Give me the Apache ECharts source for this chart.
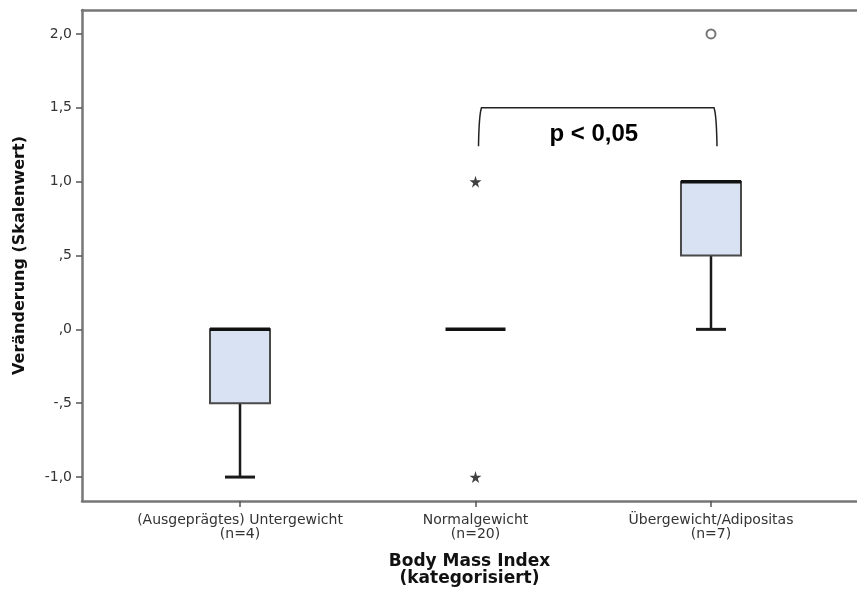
<!DOCTYPE html>
<html>
<head>
<meta charset="utf-8">
<script src="https://cdn.jsdelivr.net/npm/echarts@6/dist/echarts.min.js"></script>
<style>
  html, body { margin: 0; padding: 0; background: #fff; }
  #chart { width: 857px; height: 592px; }
</style>
</head>
<body>
<div id="chart"></div>
<script>
// BMI groups and the box statistics for "Veränderung (Skalenwert)"
const categories = ['(Ausgeprägtes) Untergewicht\n(n=4)', 'Normalgewicht\n(n=20)', 'Übergewicht/Adipositas\n(n=7)'];
const whiskerLow  = [-1.0, 0.0, 0.0];
const quartile1   = [-0.5, 0.0, 0.5];
const medians     = [ 0.0, 0.0, 1.0];
const quartile3   = [ 0.0, 0.0, 1.0];
const whiskerHigh = [ 0.0, 0.0, 1.0];

// outliers (circle) and extreme values (star): [group index, value]
const outliers = [[2, 2.0]];
const extremes = [[1, 1.0], [1, -1.0]];

// y-axis ticks with German decimal format
const yTicks      = [-1.0, -0.5, 0.0, 0.5, 1.0, 1.5, 2.0];
const yTickLabels = ['-1,0', '-,5', ',0', ',5', '1,0', '1,5', '2,0'];

// significance bracket between two groups
const bracketGroups = [1, 2];
const bracketTop = 1.5;
const bracketBottom = 1.24;
const bracketLabel = 'p < 0,05';

const boxData = categories.map((_, i) =>
  [i, whiskerLow[i], quartile1[i], medians[i], quartile3[i], whiskerHigh[i]]);

const BOX_HALF = 30;
const CAP_HALF = 15;

function renderBox(params, api) {
  const i = api.value(0);
  const cx = api.coord([i, 0])[0];
  const yLow = api.coord([i, api.value(1)])[1];
  const yQ1  = api.coord([i, api.value(2)])[1];
  const yMed = api.coord([i, api.value(3)])[1];
  const yQ3  = api.coord([i, api.value(4)])[1];
  const yHigh = api.coord([i, api.value(5)])[1];
  const children = [];
  const wStyle = { stroke: '#1a1a1a', lineWidth: 2.5 };
  if (api.value(1) < api.value(2)) {
    children.push({ type: 'line', shape: { x1: cx, y1: yQ1, x2: cx, y2: yLow }, style: wStyle });
    children.push({ type: 'line', shape: { x1: cx - CAP_HALF, y1: yLow, x2: cx + CAP_HALF, y2: yLow }, style: { stroke: '#1a1a1a', lineWidth: 3 } });
  }
  if (api.value(5) > api.value(4)) {
    children.push({ type: 'line', shape: { x1: cx, y1: yQ3, x2: cx, y2: yHigh }, style: wStyle });
    children.push({ type: 'line', shape: { x1: cx - CAP_HALF, y1: yHigh, x2: cx + CAP_HALF, y2: yHigh }, style: { stroke: '#1a1a1a', lineWidth: 3 } });
  }
  if (api.value(4) > api.value(2)) {
    children.push({
      type: 'rect',
      shape: { x: cx - BOX_HALF, y: yQ3, width: 2 * BOX_HALF, height: yQ1 - yQ3 },
      style: { fill: '#d9e2f3', stroke: '#4a4a4a', lineWidth: 2 }
    });
  }
  children.push({ type: 'line', shape: { x1: cx - BOX_HALF, y1: yMed, x2: cx + BOX_HALF, y2: yMed }, style: { stroke: '#111', lineWidth: 3.5 } });
  return { type: 'group', children };
}

function renderBracket(params, api) {
  const x1 = api.coord([api.value(0), 0])[0] + 3;
  const x2 = api.coord([api.value(1), 0])[0] + 6;
  const yt = api.coord([0, api.value(2)])[1];
  const yb = api.coord([0, api.value(3)])[1];
  const r = 7;
  const path = 'M' + x1 + ' ' + yb + ' Q' + (x1 + 0.5) + ' ' + (yt + r) + ' ' + (x1 + 3) + ' ' + yt +
    ' L' + (x2 - 3) + ' ' + yt + ' Q' + (x2 - 0.5) + ' ' + (yt + r) + ' ' + x2 + ' ' + yb;
  return {
    type: 'group',
    children: [
      { type: 'path', shape: { pathData: path }, style: { fill: null, stroke: '#222', lineWidth: 1.5 } },
      { type: 'text', style: { text: bracketLabel, x: (x1 + x2) / 2 - 4, y: yt + 27, align: 'center', verticalAlign: 'middle',
          font: 'bold 24px "Liberation Sans", Arial, sans-serif', fill: '#000' } }
    ]
  };
}

const STAR = 'path://M50,0 L61,35 L98,35 L68,57 L79,91 L50,70 L21,91 L32,57 L2,35 L39,35 Z';
const AXIS_COLOR = '#777';

const chart = echarts.init(document.getElementById('chart'), null, { renderer: 'canvas' });
chart.setOption({
  backgroundColor: '#fff',
  animation: false,
  grid: { left: 82, top: 10, bottom: 89, right: 0 },
  xAxis: [{
    type: 'value',
    min: -0.671,
    max: 2.62,
    name: 'Body Mass Index\n(kategorisiert)',
    nameLocation: 'middle',
    nameGap: 52,
    nameTextStyle: { fontFamily: 'DejaVu Sans', fontWeight: 'bold', fontSize: 17, color: '#111', lineHeight: 17 },
    axisLine: { show: true, onZero: false, lineStyle: { color: AXIS_COLOR, width: 2.5 } },
    axisTick: { show: true, customValues: [0, 1, 2], length: 6, lineStyle: { color: '#555', width: 1.5 } },
    axisLabel: {
      customValues: [0, 1, 2],
      formatter: v => categories[Math.round(v)],
      margin: 12,
      fontFamily: 'DejaVu Sans', fontSize: 14, lineHeight: 14, color: '#333'
    },
    splitLine: { show: false }
  }, {
    // top frame line of the plot area
    type: 'value',
    position: 'top',
    min: -0.671,
    max: 2.62,
    axisLine: { show: true, onZero: false, lineStyle: { color: AXIS_COLOR, width: 2.5 } },
    axisTick: { show: false },
    axisLabel: { show: false },
    splitLine: { show: false }
  }],
  yAxis: {
    type: 'value',
    min: -1.162,
    max: 2.162,
    name: 'Veränderung (Skalenwert)',
    nameLocation: 'middle',
    nameGap: 54,
    nameTextStyle: { fontFamily: 'DejaVu Sans', fontWeight: 'bold', fontSize: 16, color: '#111' },
    axisLine: { show: true, onZero: false, lineStyle: { color: AXIS_COLOR, width: 2.5 } },
    axisTick: { show: true, customValues: yTicks, length: 6, lineStyle: { color: '#555', width: 1.5 } },
    axisLabel: {
      customValues: yTicks,
      formatter: v => yTickLabels[yTicks.findIndex(t => Math.abs(t - v) < 1e-6)],
      margin: 10,
      fontFamily: 'DejaVu Sans', fontSize: 14, color: '#333'
    },
    splitLine: { show: false }
  },
  series: [
    {
      type: 'custom',
      renderItem: renderBox,
      encode: { x: 0, y: [1, 2, 3, 4, 5] },
      data: boxData,
      z: 3
    },
    {
      type: 'scatter',
      data: outliers,
      symbol: 'circle',
      symbolSize: 9,
      itemStyle: { color: '#fff', borderColor: '#555', borderWidth: 2 },
      z: 4
    },
    {
      type: 'scatter',
      data: extremes,
      symbol: STAR,
      symbolSize: 12,
      itemStyle: { color: '#111' },
      z: 4
    },
    {
      type: 'custom',
      renderItem: renderBracket,
      encode: { x: [0, 1], y: [2, 3] },
      data: [[bracketGroups[0], bracketGroups[1], bracketTop, bracketBottom]],
      z: 5
    }
  ]
});
</script>
</body>
</html>
